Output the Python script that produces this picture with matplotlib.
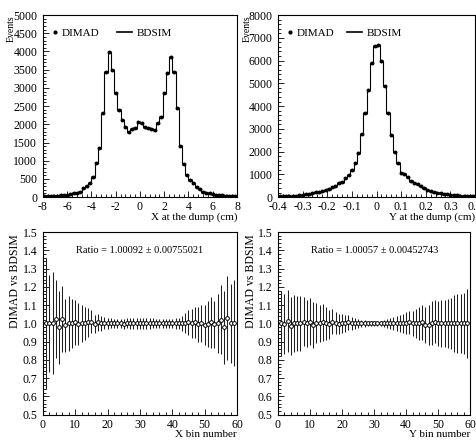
import matplotlib.pyplot as plt
import numpy as np
from matplotlib.lines import Line2D
from matplotlib.ticker import MultipleLocator

plt.rcParams['font.family'] = ['Liberation Serif', 'DejaVu Serif']
plt.rcParams['axes.unicode_minus'] = False

# histogram settings (60 bins each)
n_bins = 60
x_range = (-8.0, 8.0)
y_range = (-0.4, 0.4)

# events per bin, X at the dump
x_counts = [20, 25, 30, 35, 40, 50, 60, 70, 85, 100,
            120, 145, 240, 300, 380, 550, 925, 1340, 2300, 3440,
            3990, 3490, 2850, 2390, 2115, 1930, 1795, 1860, 1885, 2070,
            2025, 1915, 1885, 1860, 1850, 2025, 2205, 2850, 3400, 3840,
            3440, 2435, 1400, 905, 605, 465, 395, 285, 210, 145,
            120, 100, 80, 70, 60, 50, 40, 35, 25, 20]

# events per bin, Y at the dump
y_counts = [40, 45, 50, 55, 60, 65, 75, 90, 140, 150,
            165, 220, 240, 265, 320, 360, 430, 470, 600, 680,
            850, 960, 1180, 1480, 1950, 2760, 3680, 4700, 5900, 6650,
            6700, 5980, 4880, 3700, 2750, 2000, 1500, 1080, 1000, 870,
            720, 640, 560, 470, 380, 330, 250, 210, 180, 160,
            140, 120, 100, 85, 75, 65, 55, 50, 45, 40]

# DIMAD / BDSIM ratio per bin number
ratio_bins = list(range(1, 60))
x_ratio = [1.0, 1.0, 1.0, 1.025, 0.978, 1.024, 0.99, 1.0, 1.0, 1.005,
           0.995, 1.0, 1.0, 1.005, 1.01, 0.995, 1.005, 1.0, 1.0, 1.0,
           1.0, 1.0, 1.0, 1.0, 0.998, 1.0, 1.0, 1.0, 1.0, 1.0,
           1.0, 1.0, 1.0, 1.0, 1.0, 1.0, 1.0, 1.0, 1.0, 1.0,
           1.0, 1.0, 1.0, 1.0, 1.005, 1.0, 1.005, 0.995, 1.0, 0.99,
           0.995, 1.005, 0.995, 1.0, 1.02, 0.98, 1.027, 1.0, 1.0]
x_ratio_err = [0.36, 0.265, 0.28, 0.215, 0.2, 0.18, 0.145, 0.15, 0.135, 0.125,
               0.115, 0.1, 0.09, 0.08, 0.065, 0.05, 0.045, 0.04, 0.033, 0.03,
               0.027, 0.025, 0.024, 0.025, 0.026, 0.027, 0.028, 0.028, 0.028, 0.028,
               0.028, 0.028, 0.028, 0.027, 0.026, 0.025, 0.024, 0.023, 0.024, 0.025,
               0.028, 0.032, 0.04, 0.055, 0.07, 0.08, 0.085, 0.095, 0.1, 0.11,
               0.125, 0.14, 0.13, 0.16, 0.19, 0.2, 0.23, 0.215, 0.235]
y_ratio = [1.0, 0.998, 1.015, 0.985, 1.0, 1.0, 1.0, 1.01, 1.0, 1.01,
           0.99, 1.0, 1.0, 1.005, 1.0, 0.995, 1.01, 1.0, 0.995, 1.0,
           1.0, 1.005, 1.0, 1.0, 1.0, 1.0, 1.0, 1.0, 1.0, 1.0,
           1.0, 1.0, 1.0, 1.0, 1.0, 1.0, 1.0, 1.0, 1.0, 1.0,
           1.005, 1.0, 1.0, 1.0, 1.005, 0.99, 0.99, 1.0, 1.01, 1.0,
           1.0, 1.0, 1.0, 1.0, 1.0, 1.0, 1.0, 1.0, 1.0]
y_ratio_err = [0.18, 0.165, 0.17, 0.16, 0.155, 0.15, 0.15, 0.135, 0.13, 0.13,
               0.125, 0.11, 0.1, 0.1, 0.09, 0.08, 0.07, 0.06, 0.055, 0.05,
               0.045, 0.04, 0.035, 0.03, 0.025, 0.02, 0.018, 0.015, 0.012, 0.012,
               0.013, 0.015, 0.02, 0.025, 0.03, 0.035, 0.04, 0.045, 0.05, 0.06,
               0.065, 0.07, 0.08, 0.09, 0.095, 0.1, 0.11, 0.12, 0.12, 0.125,
               0.13, 0.13, 0.135, 0.14, 0.155, 0.16, 0.16, 0.165, 0.19]

x_ratio_text = 'Ratio = 1.00092 \u00b1 0.00755021'
y_ratio_text = 'Ratio = 1.00057 \u00b1 0.00452743'

fig = plt.figure(figsize=(4.76, 4.43), dpi=100)
ax1 = fig.add_axes([0.090, 0.555, 0.408, 0.411])
ax2 = fig.add_axes([0.584, 0.555, 0.414, 0.411])
ax3 = fig.add_axes([0.090, 0.064, 0.408, 0.412])
ax4 = fig.add_axes([0.584, 0.064, 0.404, 0.412])


def style_axis(ax, xmaj, xmin, ymaj, ymin):
    ax.xaxis.set_major_locator(MultipleLocator(xmaj))
    ax.xaxis.set_minor_locator(MultipleLocator(xmin))
    ax.yaxis.set_major_locator(MultipleLocator(ymaj))
    ax.yaxis.set_minor_locator(MultipleLocator(ymin))
    ax.tick_params(which='both', direction='in', top=False, right=False,
                   labelsize=8.5, width=0.6)
    ax.tick_params(which='major', length=4)
    ax.tick_params(which='minor', length=2)
    ax.tick_params(axis='y', pad=4)
    ax.tick_params(axis='x', pad=3)
    for sp in ax.spines.values():
        sp.set_linewidth(0.8)


def draw_hist(ax, counts, rng, xlabel, xmaj, xmin, ymax, ymaj, ymin,
              leg1_x, leg2_x, ylab_x):
    edges = np.linspace(rng[0], rng[1], n_bins + 1)
    centers = 0.5 * (edges[:-1] + edges[1:])
    half = 0.5 * (edges[1] - edges[0])
    ax.stairs(counts, edges, color='k', lw=0.8)
    ax.errorbar(centers, counts, xerr=half, fmt='o', ms=1.8, color='k',
                elinewidth=2.2, capsize=0)
    ax.set_xlim(rng)
    ax.set_ylim(0, ymax)
    style_axis(ax, xmaj, xmin, ymaj, ymin)
    ax.set_xlabel(xlabel, fontsize=8, loc='right')
    ax.xaxis.set_label_coords(1.0, -0.085)
    ax.set_ylabel('Events', fontsize=7, loc='top')
    ax.yaxis.set_label_coords(ylab_x, 1.0)

    h1 = Line2D([], [], marker='o', ms=2, ls='none', color='k')
    h2 = Line2D([], [], color='k', lw=1.2)
    leg1 = ax.legend([h1], ['DIMAD'], loc='center left',
                     bbox_to_anchor=(leg1_x, 0.90), frameon=False,
                     fontsize=8, handlelength=0.6, handletextpad=0.3,
                     borderpad=0, borderaxespad=0)
    ax.add_artist(leg1)
    ax.legend([h2], ['BDSIM'], loc='center left',
              bbox_to_anchor=(leg2_x, 0.90), frameon=False,
              fontsize=8, handlelength=1.35, handletextpad=0.45,
              borderpad=0, borderaxespad=0)


def draw_ratio(ax, ratio, err, xlabel, text):
    ax.errorbar(ratio_bins, ratio, yerr=err, fmt='o', ms=2.7, mfc='white',
                mec='k', mew=0.7, ecolor='#202020', elinewidth=0.75, capsize=0)
    ax.set_xlim(0, 60)
    ax.set_ylim(0.5, 1.5)
    style_axis(ax, 10, 2, 0.1, 0.02)
    ax.set_xlabel(xlabel, fontsize=8, loc='right')
    ax.xaxis.set_label_coords(1.0, -0.085)
    ax.set_ylabel('DIMAD vs BDSIM', fontsize=8.5, loc='top')
    ax.yaxis.set_label_coords(-0.11, 0.99)
    ax.text(10.2, 1.40, text, fontsize=7.5, va='center', ha='left')


draw_hist(ax1, x_counts, x_range, 'X at the dump (cm)', 2, 0.4, 5000, 500, 100,
          0.045, 0.381, -0.142)
draw_hist(ax2, y_counts, y_range, 'Y at the dump (cm)', 0.1, 0.02, 8000, 1000, 200,
          0.043, 0.35, -0.135)
ax2.xaxis.set_major_formatter(plt.FuncFormatter(lambda v, p: '0' if abs(v) < 1e-9 else '%.1f' % v))

draw_ratio(ax3, x_ratio, x_ratio_err, 'X bin number', x_ratio_text)
draw_ratio(ax4, y_ratio, y_ratio_err, 'Y bin number', y_ratio_text)

fig.savefig('out.png', dpi=100)
